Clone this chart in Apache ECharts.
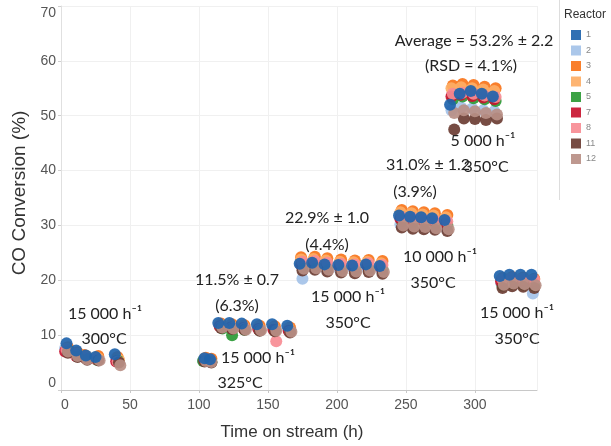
<!DOCTYPE html>
<html><head><meta charset="utf-8">
<script src="https://cdn.jsdelivr.net/npm/echarts@6/dist/echarts.min.js"></script>
<style>html,body{margin:0;padding:0;background:#fff}#c{width:611px;height:446px}</style>
</head><body><div id="c"></div>
<script>
// ---- data ----
const reactors = ['1','2','3','4','5','7','8','11','12'];
const reactorColors = ['#1f64ad','#a4c2e8','#f8741a','#fdae66','#2b9a35','#c8142f','#f78c94','#6b3d33','#b98f86'];
const xTickLabels = [0,50,100,150,200,250,300];
const yTickLabels = [0,10,20,30,40,50,60,70];

// time on stream (h) per reactor
const t1  = [4,11,18,25,39, 104,108, 114,122,131,142,153,164, 173,182,191,201,211,221,231, 245,253,261,269,278, 282,289,297,305,313, 318,325,333,341];
const t2  = [3,10,19,26,40, 103,107, 115,123,132,143,154,165, 175,183,192,202,212,222,232, 246,254,262,270,279, 283,290,298,306,314, 319,326,334,342];
const t3  = [5,12,17,27,41, 105,109, 116,124,133,144,155,166, 174,184,193,203,213,223,233, 247,255,263,271,280, 284,291,299,307,315, 320,327,335,343];
const t4  = [4,12,19,27,42, 104,108, 115,123,132,143,154,165, 174,183,192,202,212,222,232, 246,254,262,270,279, 283,290,298,306,314, 319,326,334,342];
const t5  = [5,11,18,26,41, 103,109, 117,124,133,144,155,166, 175,184,193,203,213,223,233, 247,255,263,271,280, 284,291,299,307,315, 320,327,335,343];
const t7  = [3,11,18,26,40, 104,108, 115,123,132,143,154,165, 174,183,192,202,212,222,232, 246,254,262,270,279, 283,290,298,306,314, 319,326,334,342];
const t8  = [4,10,17,25,41, 105,108, 116,124,133,144,156,166, 175,184,193,203,213,223,233, 247,255,263,271,280, 284,291,299,307,315, 320,327,335,343];
const t11 = [5,12,19,27,42, 104,109, 116,124,133,144,155,166, 175,184,193,203,213,223,233, 247,255,263,271,280, 285,292,300,308,316, 320,327,335,343];
const t12 = [5,12,19,28,43, 105,109, 117,125,134,145,156,167, 176,185,194,204,214,224,234, 248,256,264,272,281, 285,292,300,308,316, 321,328,336,344];

// CO conversion (%) per reactor
const v1  = [8.5,7.2,6.3,6.0,6.5, 5.8,5.6, 12.2,12.2,12.1,12.0,12.0,11.7, 23.0,23.2,22.9,22.8,22.7,22.9,22.6, 31.8,31.6,31.5,31.3,31.0, 52.0,54.0,54.5,54.0,53.5, 20.8,21.0,21.0,21.0];
const v2  = [7.6,6.8,6.0,5.6,5.9, 5.4,5.2, 11.8,11.6,11.5,11.3,11.2,11.0, 20.3,22.4,22.2,22.0,22.1,22.3,22.0, 30.2,30.0,29.9,29.8,29.6, 51.0,51.5,51.3,51.0,50.8, 19.5,19.8,19.6,17.6];
const v3  = [7.8,6.9,6.4,6.2,6.0, 5.9,5.7, 12.1,12.0,11.8,11.7,11.6,11.4, 24.2,24.3,24.0,23.8,23.6,23.7,23.5, 32.8,32.6,32.4,32.2,31.9, 55.5,55.8,55.6,55.3,55.0, 20.4,20.6,20.5,20.3];
const v4  = [7.5,6.6,6.0,5.8,5.5, 5.7,5.5, 12.0,11.8,11.7,11.5,11.4,11.2, 23.8,23.9,23.6,23.4,23.3,23.4,23.1, 32.4,32.2,32.0,31.8,31.5, 55.0,55.2,55.0,54.8,54.5, 20.1,20.3,20.2,20.0];
const v5  = [7.2,6.4,5.8,5.5,5.4, 5.3,5.1, 11.2,10.0,11.0,10.9,10.8,10.7, 22.4,22.6,22.3,22.2,22.0,22.2,22.0, 30.8,30.6,30.5,30.3,30.1, 53.0,53.5,53.2,53.0,52.7, 19.0,19.3,19.2,19.0];
const v7  = [7.0,6.2,5.8,5.6,5.2, 5.4,5.2, 11.6,11.4,11.3,11.1,11.0,10.8, 22.8,23.0,22.7,22.5,22.4,22.6,22.3, 31.2,31.0,30.9,30.7,30.4, 53.5,53.8,53.6,53.3,53.0, 19.8,20.0,19.9,19.7];
const v8  = [7.3,6.5,6.0,5.7,5.2, 5.6,5.4, 11.5,11.3,11.2,11.0,8.9,10.6, 23.4,23.5,23.2,23.0,22.9,23.1,22.8, 31.5,31.3,31.1,30.9,30.7, 54.0,54.2,54.0,53.7,53.4, 20.2,20.4,20.3,20.1];
const v11 = [6.8,6.0,5.5,5.4,5.0, 5.2,5.0, 11.3,11.1,11.0,10.8,10.7,10.5, 21.8,21.9,21.6,21.4,21.3,21.5,21.2, 29.6,29.4,29.3,29.2,29.0, 47.5,49.5,49.4,49.2,49.5, 18.6,18.9,18.8,18.6];
const v12 = [7.0,6.2,5.6,5.4,4.5, 5.3,5.1, 11.4,11.2,11.0,10.9,10.8,10.6, 22.1,22.2,21.9,21.7,21.6,21.8,21.5, 30.0,29.8,29.7,29.5,29.3, 50.5,51.0,50.8,50.5,50.2, 19.2,19.4,19.3,19.1];

const times = [t1,t2,t3,t4,t5,t7,t8,t11,t12];
const values = [v1,v2,v3,v4,v5,v7,v8,v11,v12];

// annotation texts
const annotations = [
  ['15 000 h\u207B\u00B9', 105, 314], ['300°C', 104, 339],
  ['15 000 h\u207B\u00B9', 258, 358], ['325°C', 240, 383],
  ['11.5% \u00B1 0.7', 237, 280], ['(6.3%)', 237, 306],
  ['22.9% \u00B1 1.0', 327, 218], ['(4.4%)', 327, 245],
  ['15 000 h\u207B\u00B9', 348, 297], ['350°C', 348, 323],
  ['31.0% \u00B1 1.2', 428, 165], ['(3.9%)', 415, 192],
  ['10 000 h\u207B\u00B9', 440, 257], ['350°C', 433, 283],
  ['Average = 53.2% \u00B1 2.2', 474, 41], ['(RSD = 4.1%)', 471, 66],
  ['5 000 h\u207B\u00B9', 483, 141], ['350°C', 486, 167],
  ['15 000 h\u207B\u00B9', 517, 313], ['350°C', 517, 339]
];

// ---- chart ----
const chart = echarts.init(document.getElementById('c'), null, {renderer:'canvas'});
const series = reactors.map((r, i) => ({
  name: r,
  type: 'scatter',
  symbol: 'circle',
  symbolSize: 12,
  z: r === '1' ? 3 : 2,
  itemStyle: { color: reactorColors[i], opacity: 0.92 },
  data: times[i].map((t, k) => [t, values[i][k]])
}));

const graphics = annotations.map(a => ({
  type: 'text', x: a[1], y: a[2], z: 10,
  style: { text: a[0], align: 'center', verticalAlign: 'middle', font: '16px Lato', fill: '#222' }
}));
graphics.push({ type: 'text', x: 564, y: 15, style: { text: 'Reactor', font: '12px "Liberation Sans"', fill: '#333', verticalAlign: 'middle' } });
graphics.push({ type: 'line', shape: { x1: 559.5, y1: 0, x2: 559.5, y2: 200 }, style: { stroke: '#ddd', lineWidth: 1 } });

chart.setOption({
  animation: false,
  backgroundColor: '#fff',
  grid: { left: 61, right: 74, top: 6, bottom: 54, containLabel: false },
  xAxis: {
    type: 'value', min: xTickLabels[0], max: 345,
    name: 'Time on stream (h)', nameLocation: 'middle', nameGap: 34,
    nameTextStyle: { fontSize: 17, color: '#333', fontFamily: 'Liberation Sans', padding: [0, 14, 0, 0] },
    axisLine: { show: true, lineStyle: { color: '#c8c8c8' } },
    axisTick: { show: true, length: 3, lineStyle: { color: '#c8c8c8' } },
    axisLabel: { fontSize: 14, color: '#555', fontFamily: 'Liberation Sans', margin: 8, showMaxLabel: false, alignMinLabel: 'left' },
    splitLine: { show: true, lineStyle: { color: '#f0f0f0' } }
  },
  yAxis: {
    type: 'value', min: yTickLabels[0], max: yTickLabels[yTickLabels.length-1], interval: 10,
    name: 'CO Conversion (%)', nameLocation: 'middle', nameGap: 28,
    nameTextStyle: { fontSize: 19, color: '#333', fontFamily: 'Liberation Sans', padding: [0, 0, 0, 10] },
    axisLine: { show: true, lineStyle: { color: '#e0e0e0' } },
    axisTick: { show: true, length: 3, lineStyle: { color: '#d0d0d0' } },
    axisLabel: { fontSize: 14, color: '#555', fontFamily: 'Liberation Sans', margin: 5, verticalAlignMinLabel: 'bottom', verticalAlignMaxLabel: 'top' },
    splitLine: { show: true, lineStyle: { color: '#f0f0f0' } }
  },
  legend: {
    orient: 'vertical', left: 566, top: 25,
    itemWidth: 10, itemHeight: 10, itemGap: 5.5, icon: 'rect',
    textStyle: { fontSize: 9, color: '#888', fontFamily: 'Liberation Sans' },
    data: reactors
  },
  graphic: graphics,
  series: series
});
</script></body></html>
